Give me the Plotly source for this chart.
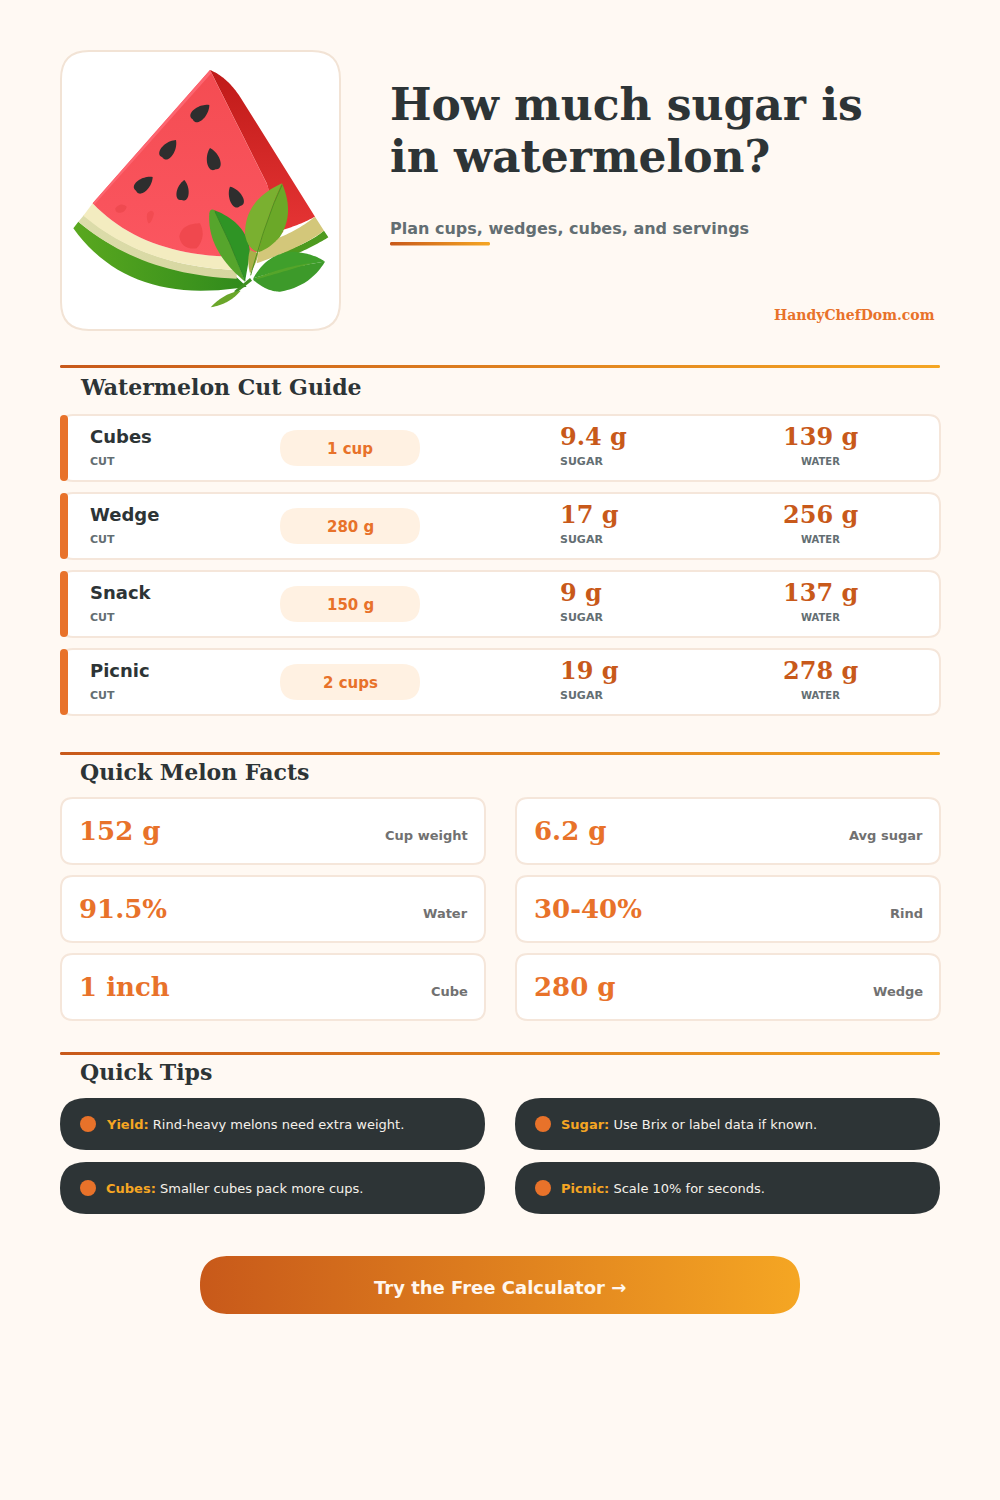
import re

import plotly.graph_objects as go

PAGE_BG = "#fff9f3"
INK = "#2d3436"
GREY = "#636e72"
ORANGE = "#e8722a"
DEEP_ORANGE = "#c8591a"
AMBER = "#f5a623"
BORDER = "#f5e6da"
SERIF = "DejaVu Serif"
SANS = "DejaVu Sans"

TITLE_LINES = ["How much sugar is", "in watermelon?"]
SUBTITLE = "Plan cups, wedges, cubes, and servings"
SITE = "HandyChefDom.com"

CUT_HEADING = "Watermelon Cut Guide"
CUT_NAMES = ["Cubes", "Wedge", "Snack", "Picnic"]
CUT_PORTIONS = ["1 cup", "280 g", "150 g", "2 cups"]
CUT_SUGAR = ["9.4 g", "17 g", "9 g", "19 g"]
CUT_WATER = ["139 g", "256 g", "137 g", "278 g"]

FACTS_HEADING = "Quick Melon Facts"
FACT_VALUES_LEFT = ["152 g", "91.5%", "1 inch"]
FACT_LABELS_LEFT = ["Cup weight", "Water", "Cube"]
FACT_VALUES_RIGHT = ["6.2 g", "30-40%", "280 g"]
FACT_LABELS_RIGHT = ["Avg sugar", "Rind", "Wedge"]

TIPS_HEADING = "Quick Tips"
TIP_KEYS_LEFT = ["Yield:", "Cubes:"]
TIP_TEXT_LEFT = ["Rind-heavy melons need extra weight.", "Smaller cubes pack more cups."]
TIP_KEYS_RIGHT = ["Sugar:", "Picnic:"]
TIP_TEXT_RIGHT = ["Use Brix or label data if known.", "Scale 10% for seconds."]

BUTTON_TEXT = "Try the Free Calculator →"

# Watermelon artwork, in a 3x drawing space over the logo card
# (fill, path) or ((gradient type, start colour, end colour), path)
MELON_PARTS = [
    (("horizontal", "#5aa81f", "#2f8a1c"), "M 70 565 L 85 545 Q 270 700 560 712 L 590 740 Q 240 800 70 565"),
    (("horizontal", "#dcdcaa", "#d6d69f"), "M 85 545 L 102 525 Q 280 680 560 690 L 560 716 Q 270 704 85 545"),
    ("#f3ecc0", "M 128 490 L 100 527 Q 280 680 560 690 L 600 650 Q 290 660 128 490"),
    ("#4d9a1f", "M 822 572 L 835 592 Q 780 625 730 645 L 680 640 Q 770 615 822 572"),
    ("#d3c77a", "M 795 530 L 822 572 Q 760 620 620 670 L 630 610 Q 720 590 795 530"),
    (("vertical", "#e53434", "#bf1a18"), "M 480 90 Q 530 110 570 170 L 795 530 Q 750 555 690 572 L 650 430 Q 600 330 480 90"),
    (("vertical", "#fb5660", "#f44c52"), "M 480 90 L 128 490 Q 290 660 600 650 L 700 575 L 650 430 Q 600 330 480 90"),
    ("#fd6570", "M 480 90 L 128 490 L 134 493 L 484 100"),
    ("#ef4a50", "M 196 505 Q 212 485 230 500 Q 225 520 205 518 Q 195 515 196 505"),
    ("#f24b51", "M 292 520 Q 305 505 312 520 Q 305 550 295 550 Q 288 535 292 520"),
    ("#f0484e", "M 388 590 Q 395 550 450 550 Q 470 590 440 625 Q 395 630 388 590"),
    # left leaf
    ("#56a52c", "M 585 725 Q 470 630 478 520 Q 480 505 492 510 Q 545 615 585 725"),
    ("#2f9425", "M 492 510 Q 595 550 600 640 L 585 725 Q 545 615 492 510"),
    # upper leaf
    ("#a9b04a", "M 600 700 Q 590 660 600 630 L 625 640 Q 620 670 600 700"),
    ("#7ab030", "M 696 430 Q 585 480 585 580 Q 590 625 625 637 Q 650 530 696 430"),
    ("#6ba828", "M 696 430 Q 735 520 690 590 Q 660 625 625 637 Q 650 530 696 430"),
    # right leaf
    ("#3f9f2b", "M 610 715 Q 650 640 730 635 Q 790 640 825 665 Q 720 680 610 715"),
    ("#3d9a2a", "M 610 715 Q 720 680 825 665 Q 780 740 690 755 Q 650 755 610 720"),
    ("#55a52a", "M 620 714 Q 700 680 790 668 Q 700 695 620 718"),
    # stem and small leaf
    ("#3f8f22", "M 606 722 L 560 758 L 552 754 L 600 714"),
    ("#6aa62a", "M 482 802 Q 520 760 572 752 Q 540 792 482 802"),
]
MELON_VEINS = [
    ("#4f931f", "M 696 435 Q 650 530 602 706"),
    ("#2f8a24", "M 495 515 Q 545 615 585 722"),
]
# tip x, tip y, end x, end y
SEEDS = [
    (478, 195, 428, 238),
    (378, 300, 337, 352),
    (480, 324, 497, 388),
    (308, 411, 258, 452),
    (403, 420, 395, 480),
    (540, 440, 570, 498),
]
SEED_COLOR = "#2e2e2e"


def to_page(x, y):
    return 50 + x / 3, 40 + y / 3


def sample_path(path):
    # flatten a small M/L/Q/C path into polygon points
    tokens = re.findall(r"[MLQC]|-?[\d.]+", path)
    pts = []
    i = 0
    while i < len(tokens):
        cmd = tokens[i]
        i += 1
        if cmd in "ML":
            pts.append((float(tokens[i]), float(tokens[i + 1])))
            i += 2
        elif cmd == "Q":
            p0 = pts[-1]
            c = (float(tokens[i]), float(tokens[i + 1]))
            p1 = (float(tokens[i + 2]), float(tokens[i + 3]))
            i += 4
            for k in range(1, 25):
                t = k / 24
                pts.append((
                    (1 - t) ** 2 * p0[0] + 2 * t * (1 - t) * c[0] + t ** 2 * p1[0],
                    (1 - t) ** 2 * p0[1] + 2 * t * (1 - t) * c[1] + t ** 2 * p1[1],
                ))
        elif cmd == "C":
            p0 = pts[-1]
            c0 = (float(tokens[i]), float(tokens[i + 1]))
            c1 = (float(tokens[i + 2]), float(tokens[i + 3]))
            p1 = (float(tokens[i + 4]), float(tokens[i + 5]))
            i += 6
            for k in range(1, 25):
                t = k / 24
                pts.append(tuple(
                    (1 - t) ** 3 * p0[d] + 3 * t * (1 - t) ** 2 * c0[d]
                    + 3 * t ** 2 * (1 - t) * c1[d] + t ** 3 * p1[d]
                    for d in (0, 1)
                ))
    return pts


def add_poly(fig, pts, fill):
    xs = [p[0] for p in pts] + [pts[0][0]]
    ys = [p[1] for p in pts] + [pts[0][1]]
    style = dict(fillcolor=fill) if isinstance(fill, str) else dict(
        fillgradient=dict(type=fill[0], colorscale=[[0, fill[1]], [1, fill[2]]])
    )
    fig.add_trace(go.Scatter(
        x=xs, y=ys, mode="lines", fill="toself", line=dict(width=0, simplify=False),
        hoverinfo="skip", showlegend=False, **style,
    ))


def add_melon_part(fig, path, fill):
    add_poly(fig, [to_page(*p) for p in sample_path(path)], fill)


def seed_path(tx, ty, ex, ey):
    ax, ay = ex - tx, ey - ty
    w = 0.4
    nx, ny = -ay * w, ax * w
    return (
        f"M {tx} {ty} "
        f"C {tx + 0.35 * ax + nx} {ty + 0.35 * ay + ny} {ex + 0.12 * ax + nx} {ey + 0.12 * ay + ny} {ex} {ey} "
        f"C {ex + 0.12 * ax - nx} {ey + 0.12 * ay - ny} {tx + 0.35 * ax - nx} {ty + 0.35 * ay - ny} {tx} {ty}"
    )


def rounded_path(x0, y0, x1, y1, r):
    return (
        f"M {x0 + r} {y0} L {x1 - r} {y0} Q {x1} {y0} {x1} {y0 + r} "
        f"L {x1} {y1 - r} Q {x1} {y1} {x1 - r} {y1} "
        f"L {x0 + r} {y1} Q {x0} {y1} {x0} {y1 - r} "
        f"L {x0} {y0 + r} Q {x0} {y0} {x0 + r} {y0} Z"
    )


def round_box(x0, y0, x1, y1, r, fill, border=None, border_w=2):
    return dict(
        type="path", path=rounded_path(x0, y0, x1, y1, r), fillcolor=fill,
        line=dict(color=border or fill, width=border_w if border else 0),
        layer="below", xref="x", yref="y",
    )


def text(x, y, s, size, color, family=SANS, anchor="left", bold=True):
    # annotations carry about 2px of padding inside their box
    nudge = {"left": -2, "right": 2, "center": 0}[anchor]
    return dict(
        x=x + nudge, y=y, xref="x", yref="y", text=f"<b>{s}</b>" if bold else s,
        showarrow=False, xanchor=anchor, yanchor="middle",
        font=dict(family=family, size=size, color=color),
    )


def gradient_bar(fig, x0, y0, x1, y1, r):
    add_poly(fig, sample_path(rounded_path(x0, y0, x1, y1, r).replace("Z", "")),
             ("horizontal", DEEP_ORANGE, AMBER))


fig = go.Figure()
shapes = []
notes = []

# header
shapes.append(round_box(61, 51, 340, 330, 28, "#ffffff", "#f2e3d5"))
for (fill, path) in MELON_PARTS:
    add_melon_part(fig, path, fill)
for (color, path) in MELON_VEINS:
    pts = [to_page(*p) for p in sample_path(path)]
    fig.add_trace(go.Scatter(
        x=[p[0] for p in pts], y=[p[1] for p in pts], mode="lines",
        line=dict(color=color, width=1), hoverinfo="skip", showlegend=False,
    ))
for seed in SEEDS:
    add_melon_part(fig, seed_path(*seed), SEED_COLOR)

for i, line in enumerate(TITLE_LINES):
    notes.append(text(390, 104 + i * 52, line, 44, INK, SERIF))
notes.append(text(390, 228, SUBTITLE, 16, GREY))
gradient_bar(fig, 390, 242, 490, 245.5, 1.7)
notes.append(text(935, 315, SITE, 14, ORANGE, SERIF, anchor="right"))

# cut guide
gradient_bar(fig, 60, 365, 940, 368, 1.5)
notes.append(text(79.5, 387, CUT_HEADING, 22, INK, SERIF))
for i, name in enumerate(CUT_NAMES):
    top = 415 + i * 78
    shapes.append(round_box(61, top, 940, top + 66, 12, "#ffffff", BORDER))
    shapes.append(round_box(60, top, 68, top + 66, 4, ORANGE))
    shapes.append(round_box(280, top + 15, 420, top + 51, 18, "#fff1e2"))
    notes.append(text(90, top + 21, name, 18, INK))
    notes.append(text(90, top + 46, "CUT", 11, GREY))
    notes.append(text(350, top + 34, CUT_PORTIONS[i], 15, ORANGE, anchor="center"))
    notes.append(text(560, top + 21, CUT_SUGAR[i], 24, DEEP_ORANGE, SERIF))
    notes.append(text(560, top + 46, "SUGAR", 11, GREY))
    notes.append(text(820, top + 21, CUT_WATER[i], 24, DEEP_ORANGE, SERIF, anchor="center"))
    notes.append(text(820, top + 46, "WATER", 10, GREY, anchor="center"))

# quick facts
gradient_bar(fig, 60, 752, 940, 755, 1.5)
notes.append(text(80, 772, FACTS_HEADING, 22, INK, SERIF))
for x0, values, labels in [(60, FACT_VALUES_LEFT, FACT_LABELS_LEFT), (515, FACT_VALUES_RIGHT, FACT_LABELS_RIGHT)]:
    for i, value in enumerate(values):
        top = 798 + i * 78
        shapes.append(round_box(x0 + 1, top, x0 + 425, top + 66, 12, "#ffffff", BORDER))
        notes.append(text(x0 + 18.5, top + 33, value, 26, ORANGE, SERIF))
        notes.append(text(x0 + 408, top + 37, labels[i], 13, "#717171", anchor="right"))

# tips
gradient_bar(fig, 60, 1052, 940, 1055, 1.5)
notes.append(text(80, 1072, TIPS_HEADING, 22, INK, SERIF))
for x0, keys, tips in [(60, TIP_KEYS_LEFT, TIP_TEXT_LEFT), (515, TIP_KEYS_RIGHT, TIP_TEXT_RIGHT)]:
    for i, key in enumerate(keys):
        top = 1098 + i * 64
        shapes.append(round_box(x0, top, x0 + 425, top + 52, 26, INK))
        shapes.append(dict(
            type="circle", x0=x0 + 20, x1=x0 + 36, y0=top + 18, y1=top + 34,
            fillcolor=ORANGE, line=dict(width=0), layer="below",
        ))
        rich = f"<span style='color:{AMBER}'><b>{key}</b></span> {tips[i]}"
        notes.append(text(x0 + 46, top + 26, rich, 13, "#f5f1ea", bold=False))

# button
add_poly(fig, sample_path(rounded_path(200, 1256, 800, 1314, 29).replace("Z", "")),
         ("horizontal", DEEP_ORANGE, AMBER))
notes.append(text(500, 1287, BUTTON_TEXT, 18, "#fff7ef", anchor="center"))

fig.update_layout(
    width=1000,
    height=1500,
    margin=dict(l=0, r=0, t=0, b=0),
    paper_bgcolor=PAGE_BG,
    plot_bgcolor=PAGE_BG,
    shapes=shapes,
    annotations=notes,
    showlegend=False,
    xaxis=dict(range=[0, 1000], visible=False, fixedrange=True),
    yaxis=dict(range=[1500, 0], visible=False, fixedrange=True),
)

fig.write_html(
    "out.html",
    config=dict(displayModeBar=False),
    post_script="document.body.style.margin='0';",
)
